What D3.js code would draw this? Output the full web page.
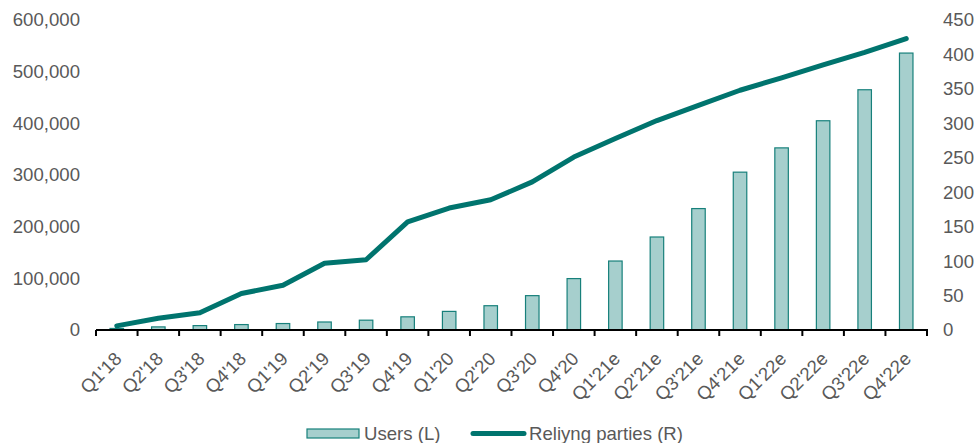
<!DOCTYPE html>
<html><head><meta charset="utf-8">
<script src="https://cdn.jsdelivr.net/npm/d3@7"></script>
<style>
html,body{margin:0;padding:0;background:#fff;}
svg{display:block;}
text{font-family:"Liberation Sans",Arial,sans-serif;}
</style></head>
<body><svg id="chart" width="976" height="443"></svg>
<script>
const categories = ["Q1'18","Q2'18","Q3'18","Q4'18","Q1'19","Q2'19","Q3'19","Q4'19","Q1'20","Q2'20","Q3'20","Q4'20","Q1'21e","Q2'21e","Q3'21e","Q4'21e","Q1'22e","Q2'22e","Q3'22e","Q4'22e"];
const users = [3000,6000,8500,10500,12500,15500,19000,25500,36000,47000,66500,99500,133500,180000,235000,305500,352500,405000,465000,536000];
const relyingParties = [6,17,25,53,65,97,102,157,177,189,215,251,278,304,326,348,366,385,403,423];
const leftTicks = [0,100000,200000,300000,400000,500000,600000];
const rightTicks = [0,50,100,150,200,250,300,350,400,450];
const legendLabels = ["Users (L)","Reliyng parties (R)"];

const svg = d3.select("#chart");
const textColor = "#595959";
const barFill = "#a6cfcd";
const barStroke = "#17807b";
const lineColor = "#00746e";
const fs = "18.6px";

const x0 = 96, x1 = 927, yBase = 330, yTop = 20;
const x = d3.scaleBand().domain(categories).range([x0, x1]).padding(0);
const yL = d3.scaleLinear().domain([0,600000]).range([yBase, yTop]);
const yR = d3.scaleLinear().domain([0,450]).range([yBase, yTop]);
const bw = x.step()*0.325;

// bars
svg.append("g").selectAll("rect").data(users).join("rect")
  .attr("x",(d,i)=>x(categories[i])+x.bandwidth()/2-bw/2)
  .attr("y",d=>yL(d))
  .attr("width",bw)
  .attr("height",d=>yBase-yL(d))
  .attr("fill",barFill).attr("stroke",barStroke).attr("stroke-width",1.2);

// x axis line + ticks
const ax = svg.append("g");
ax.append("line").attr("x1",x0).attr("x2",x1+1).attr("y1",yBase).attr("y2",yBase)
  .attr("stroke","#000").attr("stroke-width",2);
ax.selectAll("line.t").data(d3.range(categories.length+1)).join("line").attr("class","t")
  .attr("x1",i=>x0+i*x.step()).attr("x2",i=>x0+i*x.step())
  .attr("y1",yBase).attr("y2",yBase+6).attr("stroke","#000").attr("stroke-width",2);

// x labels
svg.append("g").selectAll("text").data(categories).join("text")
  .attr("transform",d=>`translate(${x(d)+x.bandwidth()/2+6},${yBase+30}) rotate(-45)`)
  .attr("text-anchor","end").attr("fill",textColor).style("font-size",fs)
  .text(d=>d);

// line
const line = d3.line().x((d,i)=>x(categories[i])+x.bandwidth()/2).y(d=>yR(d));
svg.append("path").datum(relyingParties).attr("d",line)
  .attr("fill","none").attr("stroke",lineColor).attr("stroke-width",5)
  .attr("stroke-linejoin","round").attr("stroke-linecap","round");

// left axis
const la = svg.append("g").attr("transform","translate(80,0)")
  .call(d3.axisLeft(yL).tickValues(leftTicks).tickSize(0).tickPadding(0).tickFormat(d3.format(",")));
la.select(".domain").remove();
la.selectAll("text").attr("fill",textColor).style("font-size",fs).style("font-family","'Liberation Sans',Arial,sans-serif");

// right axis
const ra = svg.append("g").attr("transform","translate(943,0)")
  .call(d3.axisRight(yR).tickValues(rightTicks).tickSize(0).tickPadding(0));
ra.select(".domain").remove();
ra.selectAll("text").attr("fill",textColor).style("font-size",fs).style("font-family","'Liberation Sans',Arial,sans-serif");

// legend
const lg = svg.append("g");
lg.append("rect").attr("x",307).attr("y",429).attr("width",52).attr("height",9)
  .attr("fill",barFill).attr("stroke",barStroke).attr("stroke-width",1.2);
lg.append("text").attr("x",364).attr("y",440).attr("fill",textColor).style("font-size",fs).text(legendLabels[0]);
lg.append("line").attr("x1",473).attr("x2",524).attr("y1",433.5).attr("y2",433.5)
  .attr("stroke",lineColor).attr("stroke-width",5).attr("stroke-linecap","round");
lg.append("text").attr("x",529).attr("y",440).attr("fill",textColor).style("font-size",fs).text(legendLabels[1]);
</script></body></html>
